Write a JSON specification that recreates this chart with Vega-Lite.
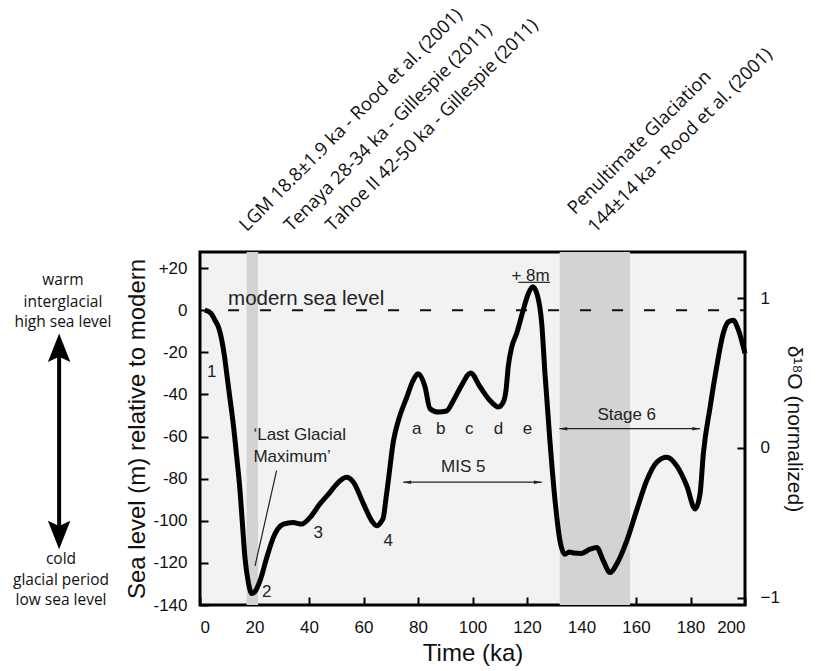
{
  "$schema": "https://vega.github.io/schema/vega-lite/v6.json",
  "width": 545,
  "height": 353,
  "autosize": {"type": "none"},
  "padding": {"left": 200, "top": 252, "right": 88, "bottom": 66},
  "background": "white",
  "config": {
    "view": {"fill": "#f2f2f2", "stroke": "#000", "strokeWidth": 3},
    "font": "Liberation Sans",
    "axis": {
      "grid": false,
      "domain": false,
      "tickSize": -8,
      "tickWidth": 2,
      "tickColor": "#000",
      "labelFontSize": 17,
      "labelColor": "#111",
      "labelFont": "Liberation Sans",
      "titleFont": "Liberation Sans",
      "titleFontSize": 24,
      "titleFontWeight": "normal",
      "titleColor": "#111"
    },
    "text": {"font": "Liberation Sans", "color": "#222"}
  },
  "datasets": {
    "curve": [
      {"x": 1.8, "y": 0}, {"x": 4, "y": -1.5}, {"x": 5.5, "y": -4.8}, {"x": 7, "y": -9},
      {"x": 8, "y": -14.3}, {"x": 9, "y": -22}, {"x": 9.8, "y": -30}, {"x": 11, "y": -42},
      {"x": 12.2, "y": -54}, {"x": 13.5, "y": -70}, {"x": 14.7, "y": -86}, {"x": 15.6, "y": -102},
      {"x": 16.5, "y": -117.5}, {"x": 17.7, "y": -129}, {"x": 19, "y": -134.5}, {"x": 20.5, "y": -133},
      {"x": 22, "y": -128.6}, {"x": 24.5, "y": -117.5}, {"x": 26.9, "y": -108}, {"x": 28.5, "y": -104},
      {"x": 30.6, "y": -101.6}, {"x": 34.2, "y": -100.8}, {"x": 37.3, "y": -101.6}, {"x": 40.4, "y": -98.4},
      {"x": 44, "y": -92}, {"x": 47.7, "y": -86.5}, {"x": 50.2, "y": -82.5}, {"x": 53.8, "y": -79.4},
      {"x": 56.3, "y": -81.7}, {"x": 60, "y": -92}, {"x": 63, "y": -100}, {"x": 64.8, "y": -102.4},
      {"x": 66.5, "y": -100.5}, {"x": 67.3, "y": -98.4}, {"x": 68.2, "y": -90}, {"x": 69.1, "y": -81},
      {"x": 71, "y": -62}, {"x": 72.8, "y": -52.4}, {"x": 75.9, "y": -41.3}, {"x": 78, "y": -34},
      {"x": 80.1, "y": -30.2}, {"x": 82.6, "y": -36.5}, {"x": 84.4, "y": -46.8}, {"x": 87.5, "y": -48.4},
      {"x": 90.5, "y": -47.9}, {"x": 93, "y": -42.9}, {"x": 96, "y": -35.7}, {"x": 99.3, "y": -29.8},
      {"x": 102.8, "y": -36.5}, {"x": 106.4, "y": -42.9}, {"x": 109.5, "y": -46}, {"x": 111.5, "y": -43},
      {"x": 112.3, "y": -38}, {"x": 113.1, "y": -27}, {"x": 114.4, "y": -17.5}, {"x": 116.2, "y": -11.1},
      {"x": 118.6, "y": 0}, {"x": 120.5, "y": 7.9}, {"x": 122.1, "y": 11.1}, {"x": 123.8, "y": 7.1},
      {"x": 125.4, "y": -6.3}, {"x": 126.6, "y": -30.2}, {"x": 128.4, "y": -61.9}, {"x": 130.3, "y": -90.5},
      {"x": 132.1, "y": -109.5}, {"x": 133.9, "y": -115.9}, {"x": 135.5, "y": -114.8}, {"x": 137, "y": -115.3},
      {"x": 140, "y": -115.5}, {"x": 143.1, "y": -113.5}, {"x": 145.6, "y": -112.7}, {"x": 148, "y": -119},
      {"x": 150.5, "y": -124.6}, {"x": 152.9, "y": -120.6}, {"x": 156.6, "y": -109.5}, {"x": 160.2, "y": -95.2},
      {"x": 163.9, "y": -81}, {"x": 167.6, "y": -72.2}, {"x": 171.3, "y": -69.8}, {"x": 174.9, "y": -73.8},
      {"x": 178.6, "y": -83.3}, {"x": 181.7, "y": -94.4}, {"x": 183.5, "y": -87.3}, {"x": 184.7, "y": -68.3},
      {"x": 187.2, "y": -46}, {"x": 189.6, "y": -27}, {"x": 192, "y": -11.1}, {"x": 193.9, "y": -5.6},
      {"x": 195.7, "y": -4.8}, {"x": 197.6, "y": -9.5}, {"x": 200, "y": -20.6}
    ],
    "bands": [
      {"x": 17.1, "x2": 21.3},
      {"x": 132.0, "x2": 157.8}
    ],
    "sealevel": [{"x": 10.3, "x2": 200, "y": 0}],
    "numbers": [
      {"x": 4.3, "y": -29.4, "label": "1"},
      {"x": 24.5, "y": -134, "label": "2"},
      {"x": 43.4, "y": -105.6, "label": "3"},
      {"x": 69.1, "y": -109.5, "label": "4"},
      {"x": 79.5, "y": -56.3, "label": "a"},
      {"x": 88.3, "y": -56.3, "label": "b"},
      {"x": 98.8, "y": -56.3, "label": "c"},
      {"x": 109.5, "y": -56.3, "label": "d"},
      {"x": 120.2, "y": -56.3, "label": "e"}
    ],
    "sealevellabel": [
      {"x": 10.3, "y": 2.4, "label": "modern sea level"}
    ],
    "leftnotes": [
      {"x": 19.6, "y": -59.5, "label": "‘Last Glacial"},
      {"x": 19.6, "y": -69.8, "label": "Maximum’"}
    ],
    "centernotes": [
      {"x": 96.6, "y": -74.6, "label": "MIS 5"},
      {"x": 156.6, "y": -50, "label": "Stage 6"},
      {"x": 121.3, "y": 16.4, "label": "+ 8m"}
    ],
    "thinlines": [
      {"x": 74.6, "x2": 125.4, "y": -81.7, "y2": -81.7},
      {"x": 131.9, "x2": 183.5, "y": -56.3, "y2": -56.3},
      {"x": 116.8, "x2": 128.4, "y": 13.2, "y2": 13.2},
      {"x": 28.1, "x2": 20.2, "y": -76.2, "y2": -121.4}
    ],
    "headsleft": [
      {"x": 76.0, "y": -81.7},
      {"x": 133.3, "y": -56.3}
    ],
    "headsright": [
      {"x": 124.0, "y": -81.7},
      {"x": 182.1, "y": -56.3}
    ],
    "sidenotes": [
      {"x": -50.3, "y": 14.2, "label": "warm"},
      {"x": -50.3, "y": 3.9, "label": "interglacial"},
      {"x": -50.3, "y": -5.6, "label": "high sea level"},
      {"x": -51, "y": -118, "label": "cold"},
      {"x": -51, "y": -128, "label": "glacial period"},
      {"x": -51, "y": -137.6, "label": "low sea level"}
    ],
    "bigarrow": [{"x": -51.7, "y": -20, "y2": -105}],
    "headup": [{"x": -51.7, "y": -18.2}],
    "headdown": [{"x": -51.7, "y": -106.4}],
    "toplabels": [
      {"x": 17.2, "y": 37.0, "label": "LGM 18.8±1.9 ka - Rood et al. (2001)"},
      {"x": 33.6, "y": 37.0, "label": "Tenaya 28-34 ka - Gillespie (2011)"},
      {"x": 48.8, "y": 37.0, "label": "Tahoe II 42-50 ka - Gillespie (2011)"},
      {"x": 137.6, "y": 45.1, "label": "Penultimate Glaciation"},
      {"x": 145.0, "y": 36.4, "label": "144±14 ka - Rood et al. (2001)"}
    ],
    "rightaxis": [{"d": -1}, {"d": 0}, {"d": 1}]
  },
  "layer": [
    {
      "layer": [
        {
          "data": {"name": "bands"},
          "mark": {"type": "rect", "color": "#d3d3d3"},
          "encoding": {
            "x": {"field": "x", "type": "quantitative", "scale": {"domain": [0, 200], "nice": false, "zero": false},
                  "axis": {"values": [0, 20, 40, 60, 80, 100, 120, 140, 160, 180, 200], "title": "Time (ka)", "labelPadding": 22, "titlePadding": 6}},
            "x2": {"field": "x2"}
          }
        },
        {
          "data": {"name": "sealevel"},
          "mark": {"type": "rule", "color": "#111", "strokeWidth": 2, "strokeDash": [11, 21]},
          "encoding": {
            "x": {"field": "x", "type": "quantitative"},
            "x2": {"field": "x2"},
            "y": {"field": "y", "type": "quantitative", "scale": {"domain": [-140, 27.6], "nice": false, "zero": false},
                  "axis": {"values": [-140, -120, -100, -80, -60, -40, -20, 0, 20],
                           "labelExpr": "datum.value > 0 ? '+' + datum.value : '' + datum.value",
                           "title": "Sea level (m) relative to modern", "labelPadding": 21, "titlePadding": 3}}
          }
        },
        {
          "data": {"name": "curve"},
          "mark": {"type": "line", "color": "#000", "strokeWidth": 5, "interpolate": "monotone"},
          "encoding": {
            "x": {"field": "x", "type": "quantitative"},
            "y": {"field": "y", "type": "quantitative"}
          }
        },
        {
          "data": {"name": "thinlines"},
          "mark": {"type": "rule", "color": "#222", "strokeWidth": 1.2},
          "encoding": {
            "x": {"field": "x", "type": "quantitative"},
            "x2": {"field": "x2"},
            "y": {"field": "y", "type": "quantitative"},
            "y2": {"field": "y2"}
          }
        },
        {
          "data": {"name": "headsleft"},
          "mark": {"type": "point", "filled": true, "color": "#222", "opacity": 1, "size": 64, "shape": "M-1,0L1,-0.45L1,0.45Z"},
          "encoding": {
            "x": {"field": "x", "type": "quantitative"},
            "y": {"field": "y", "type": "quantitative"}
          }
        },
        {
          "data": {"name": "headsright"},
          "mark": {"type": "point", "filled": true, "color": "#222", "opacity": 1, "size": 64, "shape": "M1,0L-1,-0.45L-1,0.45Z"},
          "encoding": {
            "x": {"field": "x", "type": "quantitative"},
            "y": {"field": "y", "type": "quantitative"}
          }
        },
        {
          "data": {"name": "numbers"},
          "mark": {"type": "text", "fontSize": 17, "align": "center", "baseline": "middle"},
          "encoding": {
            "x": {"field": "x", "type": "quantitative"},
            "y": {"field": "y", "type": "quantitative"},
            "text": {"field": "label"}
          }
        },
        {
          "data": {"name": "sealevellabel"},
          "mark": {"type": "text", "fontSize": 20.5, "align": "left", "baseline": "alphabetic"},
          "encoding": {
            "x": {"field": "x", "type": "quantitative"},
            "y": {"field": "y", "type": "quantitative"},
            "text": {"field": "label"}
          }
        },
        {
          "data": {"name": "leftnotes"},
          "mark": {"type": "text", "fontSize": 17, "align": "left", "baseline": "middle"},
          "encoding": {
            "x": {"field": "x", "type": "quantitative"},
            "y": {"field": "y", "type": "quantitative"},
            "text": {"field": "label"}
          }
        },
        {
          "data": {"name": "centernotes"},
          "mark": {"type": "text", "fontSize": 17, "align": "center", "baseline": "middle"},
          "encoding": {
            "x": {"field": "x", "type": "quantitative"},
            "y": {"field": "y", "type": "quantitative"},
            "text": {"field": "label"}
          }
        },
        {
          "data": {"name": "sidenotes"},
          "mark": {"type": "text", "font": "Open Sans", "fontSize": 15.5, "align": "center", "baseline": "middle", "color": "#111"},
          "encoding": {
            "x": {"field": "x", "type": "quantitative"},
            "y": {"field": "y", "type": "quantitative"},
            "text": {"field": "label"}
          }
        },
        {
          "data": {"name": "bigarrow"},
          "mark": {"type": "rule", "color": "#000", "strokeWidth": 4},
          "encoding": {
            "x": {"field": "x", "type": "quantitative"},
            "y": {"field": "y", "type": "quantitative"},
            "y2": {"field": "y2"}
          }
        },
        {
          "data": {"name": "headup"},
          "mark": {"type": "point", "filled": true, "color": "#000", "opacity": 1, "size": 900, "shape": "M0,-1L0.75,0.9L0,0.55L-0.75,0.9Z"},
          "encoding": {
            "x": {"field": "x", "type": "quantitative"},
            "y": {"field": "y", "type": "quantitative"}
          }
        },
        {
          "data": {"name": "headdown"},
          "mark": {"type": "point", "filled": true, "color": "#000", "opacity": 1, "size": 900, "shape": "M0,1L0.75,-0.9L0,-0.55L-0.75,-0.9Z"},
          "encoding": {
            "x": {"field": "x", "type": "quantitative"},
            "y": {"field": "y", "type": "quantitative"}
          }
        },
        {
          "data": {"name": "toplabels"},
          "mark": {"type": "text", "font": "Open Sans", "fontSize": 18.4, "align": "left", "baseline": "alphabetic", "angle": -45, "color": "#111"},
          "encoding": {
            "x": {"field": "x", "type": "quantitative"},
            "y": {"field": "y", "type": "quantitative"},
            "text": {"field": "label"}
          }
        }
      ]
    },
    {
      "data": {"name": "rightaxis"},
      "mark": {"type": "point", "opacity": 0},
      "encoding": {
        "y": {"field": "d", "type": "quantitative", "scale": {"domain": [-1.047, 1.307], "nice": false, "zero": false},
              "axis": {"orient": "right", "values": [-1, 0, 1], "title": "δ¹⁸O (normalized)", "titleFontSize": 21, "labelPadding": 23, "titlePadding": 4}}
      }
    }
  ],
  "resolve": {"scale": {"y": "independent"}}
}
